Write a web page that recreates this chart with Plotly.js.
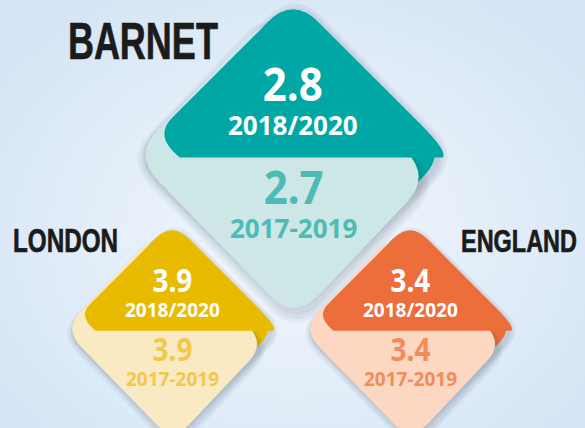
<!DOCTYPE html>
<html><head><meta charset="utf-8">
<script src="https://cdn.plot.ly/plotly-3.0.1.min.js"></script>
<style>
html,body{margin:0;padding:0;width:585px;height:428px;overflow:hidden;
background: radial-gradient(ellipse 65% 70% at 50% 55%, #f2f7fd 0%, #e4eef9 50%, #d3e4f4 100%);}
#chart{width:585px;height:428px;}
</style></head><body><div id="chart"></div>
<script>
// ---- data ----
const regions = ['BARNET', 'LONDON', 'ENGLAND'];
const rate2018_2020 = [2.8, 3.9, 3.4];
const rate2017_2019 = [2.7, 3.9, 3.4];
const periodCurrent = '2018/2020';
const periodPrevious = '2017-2019';
const darkColors = ['#00a7a5', '#e8bb00', '#ec6e3b'];
const lightColors = ['#cce7e6', '#f9eac3', '#fcd7c1'];
const lightTextColors = ['#4dbbb7', '#f2c84b', '#f28c5a'];

// ---- panel layout (pixel frame) ----
const panels = [
  {cx: 293, cy: 152, s: 155, num: 46, per: 26, nw: 60, lx: 143, ly: 41, lsize: 52, lw: 150},
  {cx: 172, cy: 327, s: 105, num: 32, per: 19, nw: 40, lx: 65.5, ly: 240, lsize: 33, lw: 105},
  {cx: 410, cy: 327, s: 105, num: 32, per: 19, nw: 40, lx: 519, ly: 241, lsize: 31, lw: 116}
];
const R = 0.23; // corner rounding (normalized)
const CUT = 0.035;

function roundPath(p, verts) {
  const n = verts.length, parts = [];
  const pt = q => (p.cx + q[0] * p.s).toFixed(2) + ',' + (p.cy + q[1] * p.s).toFixed(2);
  for (let i = 0; i < n; i++) {
    const v = verts[i], a = verts[(i - 1 + n) % n], b = verts[(i + 1) % n];
    const lin = Math.hypot(a[0] - v[0], a[1] - v[1]) || 1;
    const lout = Math.hypot(b[0] - v[0], b[1] - v[1]) || 1;
    const ti = Math.min(v[2], lin) / lin, to = Math.min(v[3], lout) / lout;
    const s = [v[0] + (a[0] - v[0]) * ti, v[1] + (a[1] - v[1]) * ti];
    const e = [v[0] + (b[0] - v[0]) * to, v[1] + (b[1] - v[1]) * to];
    parts.push((i ? 'L' : 'M') + pt(s) + 'Q' + pt(v) + ' ' + pt(e));
  }
  return parts.join('') + 'Z';
}
const darkVerts = [[0, -1, R, R], [1, 0, R, R], [0, 1, R, R], [-1, 0, R, R]];
const lightVerts = [[-0.14, -0.90, R, R], [0.89, 0.16, R, R], [0.01, 1.09, R, R], [-1.03, 0.02, R, R]];
const topVerts = [[0, -1, R, R], [1, 0, R, R], [1 - CUT, CUT, 0, 0], [-0.73, CUT, 0, 0], [-0.9, -0.1, 0.3, 0.17]];

const shapes = [];
function shp(path, color) {
  shapes.push({type: 'path', xref: 'x', yref: 'y', path: path, fillcolor: color, line: {width: 0}, layer: 'above'});
}
function shadow(p, verts, alpha) {
  [1.07, 1.045, 1.02].forEach(k => {
    shp(roundPath({cx: p.cx + 2, cy: p.cy + 4, s: p.s * k}, verts), 'rgba(40,50,70,' + alpha + ')');
  });
}
const annotations = [];
function ann(x, y, text, size, color, family, width) {
  const a = {xref: 'x', yref: 'y', x: x, y: y, text: text, showarrow: false,
    xanchor: 'center', yanchor: 'middle',
    font: {family: family, size: size, color: color, weight: 700}};
  if (width) a.width = width;
  annotations.push(a);
}
const numFont = '"Open Sans", "Noto Sans", sans-serif';
const labelFont = '"Liberation Sans", Arial, sans-serif';
// block centre from the number's baseline (Open Sans metrics: ascent 1.069em, descent 0.293em, line 1.3em)
function blockY(baseline, num, per) {
  return baseline + (-1.069 * num + 1.3 * per + 0.293 * per) / 2;
}

regions.forEach((name, i) => {
  const p = panels[i];
  shadow(p, darkVerts, 0.06);
  shp(roundPath(p, darkVerts), darkColors[i]);
  shadow(p, lightVerts, 0.05);
  shp(roundPath(p, lightVerts), lightColors[i]);
  shp(roundPath(p, topVerts), darkColors[i]);
  const top = '<span style="font-size:' + p.num + 'px">' + rate2018_2020[i].toFixed(1) + '</span><br>' + periodCurrent;
  const bot = '<span style="font-size:' + p.num + 'px">' + rate2017_2019[i].toFixed(1) + '</span><br>' + periodPrevious;
  ann(p.cx, blockY(p.cy - 0.323 * p.s - 1, p.num, p.per), top, p.per, '#ffffff', numFont);
  ann(p.cx, blockY(p.cy + 0.35 * p.s - 2, p.num, p.per), bot, p.per, lightTextColors[i], numFont);
  ann(p.lx, p.ly, name, p.lsize, '#1b1b1b', labelFont, p.lw + 4);
});

const layout = {
  width: 585, height: 428,
  margin: {l: 0, r: 0, t: 0, b: 0},
  paper_bgcolor: 'rgba(0,0,0,0)', plot_bgcolor: 'rgba(0,0,0,0)',
  xaxis: {range: [0, 585], visible: false, fixedrange: true},
  yaxis: {range: [428, 0], visible: false, fixedrange: true},
  showlegend: false,
  shapes: shapes,
  annotations: annotations
};
Plotly.newPlot('chart', [{x: [], y: [], type: 'scatter', mode: 'markers', hoverinfo: 'skip'}], layout, {displayModeBar: false, staticPlot: true})
  .then(() => {
    // condense the region labels to the reference's narrow lettering
    document.querySelectorAll('#chart text.annotation-text').forEach(t => {
      const idx = regions.indexOf(t.textContent);
      if (idx >= 0) {
        t.setAttribute('textLength', panels[idx].lw);
        t.setAttribute('lengthAdjust', 'spacingAndGlyphs');
        t.style.stroke = '#1b1b1b';
        t.style.strokeWidth = '0.7px';
      }
    });
    // condense the big numbers slightly
    document.querySelectorAll('#chart text.annotation-text tspan').forEach(ts => {
      const fs = parseFloat(ts.style.fontSize);
      if (!fs || ts.querySelector('tspan')) return;
      const pi = panels.findIndex(p => p.num === fs);
      if (pi >= 0) {
        panels.forEach(p => {
          if (p.num === fs) {
            ts.setAttribute('textLength', p.nw);
            ts.setAttribute('lengthAdjust', 'spacingAndGlyphs');
          }
        });
      }
    });
  });
</script></body></html>
